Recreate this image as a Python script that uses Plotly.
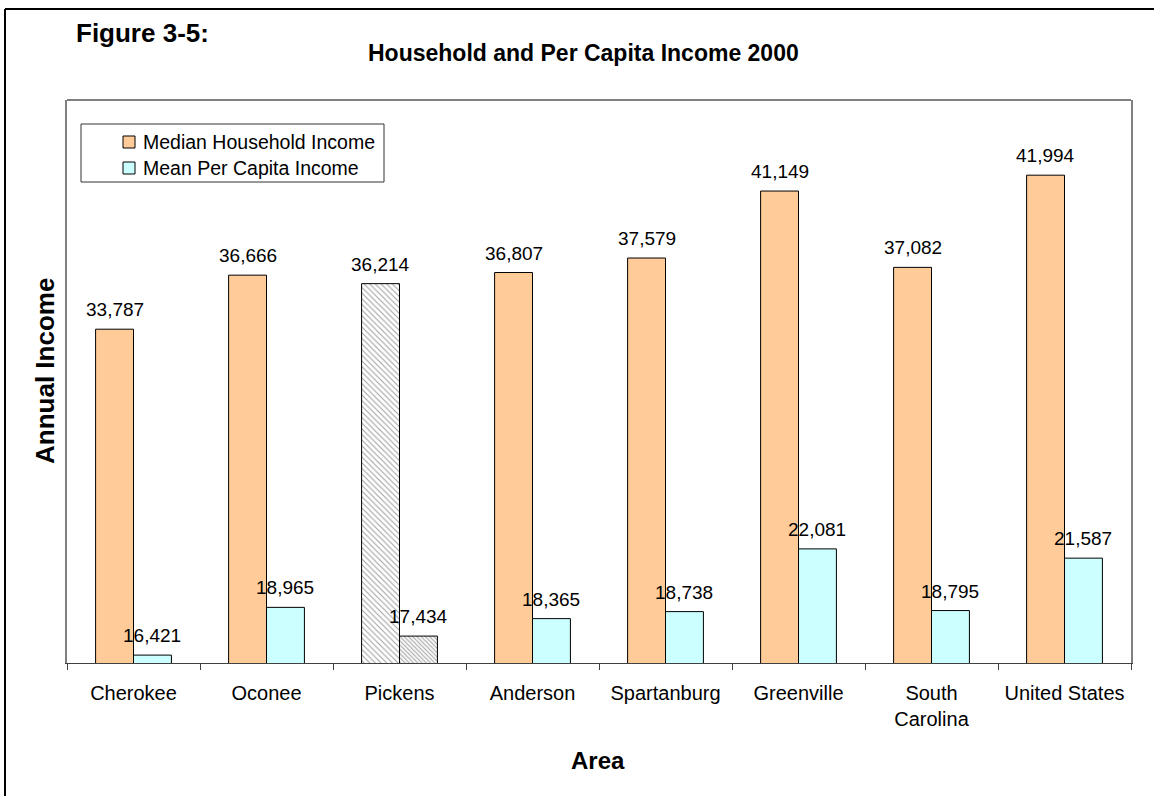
import plotly.graph_objects as go

areas = ["Cherokee", "Oconee", "Pickens", "Anderson", "Spartanburg",
         "Greenville", "South<br>Carolina", "United States"]
household = [33787, 36666, 36214, 36807, 37579, 41149, 37082, 41994]
per_capita = [16421, 18965, 17434, 18365, 18738, 22081, 18795, 21587]
series_names = ["Median Household Income", "Mean Per Capita Income"]

ORANGE = "#FFCC99"
CYAN = "#CCFFFF"
FONT = "Liberation Sans, Arial, sans-serif"

# Pickens is drawn with hatched bars
hh_colors = ["#ffffff" if a == "Pickens" else ORANGE for a in areas]
pc_colors = ["#f8f8f8" if a == "Pickens" else CYAN for a in areas]
hatch = ["\\" if a == "Pickens" else "" for a in areas]
hh_fg = ["#b4b4b4" if a == "Pickens" else ORANGE for a in areas]
pc_fg = ["#e0e0e0" if a == "Pickens" else CYAN for a in areas]

W, H = 1154, 796
ML, MR, MT, MB = 67, 23, 100, 133
pw = W - ML - MR
ph = H - MT - MB


def px(x):
    return (x - ML) / pw


def py(y):
    return 1 - (y - MT) / ph


BARGAP = 0.43
fig = go.Figure()
fig.add_trace(go.Bar(
    x=areas, y=household, name=series_names[0],
    marker=dict(color=hh_colors, line=dict(color="black", width=1),
                pattern=dict(shape=hatch, fgcolor=hh_fg, size=4,
                             solidity=0.28, fillmode="overlay")),
))
fig.add_trace(go.Bar(
    x=areas, y=per_capita, name=series_names[1],
    marker=dict(color=pc_colors, line=dict(color="black", width=1),
                pattern=dict(shape=hatch, fgcolor=pc_fg, size=3,
                             solidity=0.3, fillmode="overlay")),
))

annotations = []
# value labels above each bar, offset to the two bar slots of a group
half = pw / len(areas) * (1 - BARGAP) / 4
for series, dx in ((household, -half), (per_capita, half)):
    for a, v in zip(areas, series):
        annotations.append(dict(
            x=a, y=v, xref="x", yref="y", text=f"{v:,}", showarrow=False,
            xshift=dx, yshift=7, yanchor="bottom",
            font=dict(family=FONT, size=19, color="black"),
        ))

# titles
annotations += [
    dict(text="<b>Figure 3-5:</b>", xref="paper", yref="paper",
         x=px(74), y=py(33), xanchor="left", yanchor="middle",
         showarrow=False, font=dict(family=FONT, size=26)),
    dict(text="<b>Household and Per Capita Income 2000</b>", xref="paper", yref="paper",
         x=px(583), y=py(53), xanchor="center", yanchor="middle",
         showarrow=False, font=dict(family=FONT, size=23)),
    dict(text="<b>Annual Income</b>", xref="paper", yref="paper", textangle=-90,
         x=px(45), y=py(371), xanchor="center", yanchor="middle",
         showarrow=False, font=dict(family=FONT, size=26)),
    dict(text="<b>Area</b>", xref="paper", yref="paper",
         x=px(598), y=py(760), xanchor="center", yanchor="middle",
         showarrow=False, font=dict(family=FONT, size=24)),
]

# legend box drawn inside the plot frame
shapes = [
    dict(type="rect", xref="paper", yref="paper",
         x0=px(81), x1=px(384), y0=py(124), y1=py(182),
         line=dict(color="#333333", width=1), fillcolor="white", layer="above"),
]
for name, color, yc in ((series_names[0], ORANGE, 142), (series_names[1], CYAN, 168)):
    shapes.append(dict(type="rect", xref="paper", yref="paper",
                       x0=px(123), x1=px(135), y0=py(yc - 6), y1=py(yc + 6),
                       line=dict(color="black", width=1), fillcolor=color, layer="above"))
    annotations.append(dict(text=name, xref="paper", yref="paper",
                            x=px(141), y=py(yc), xanchor="left", yanchor="middle",
                            showarrow=False, font=dict(family=FONT, size=19.5)))

shapes += [
    # top edge of the plot frame
    dict(type="line", xref="paper", yref="paper", x0=0, x1=1, y0=1, y1=1,
         line=dict(color="#808080", width=2)),
    # outer page frame (left and top)
    dict(type="line", xref="paper", yref="paper",
         x0=px(5), x1=px(5), y0=py(9), y1=py(H + 5),
         line=dict(color="black", width=2)),
    dict(type="line", xref="paper", yref="paper",
         x0=px(5), x1=px(W + 5), y0=py(9), y1=py(9),
         line=dict(color="black", width=2)),
]

fig.update_layout(
    width=W, height=H,
    margin=dict(l=ML, r=MR, t=MT, b=MB, pad=0),
    paper_bgcolor="white", plot_bgcolor="white",
    barmode="group", bargap=BARGAP, bargroupgap=0,
    font=dict(family=FONT, size=20, color="black"),
    showlegend=False,
    xaxis=dict(
        tickson="boundaries", ticks="outside", ticklen=6, tickcolor="#404040",
        showline=True, linecolor="#404040", linewidth=1,
        tickfont=dict(family=FONT, size=20), ticklabelstandoff=12,
        showgrid=False,
    ),
    yaxis=dict(
        range=[16000, 46000], showticklabels=False, ticks="", showgrid=False,
        zeroline=False, showline=True, linecolor="#808080", linewidth=2, mirror=True,
    ),
    annotations=annotations,
    shapes=shapes,
)

fig.write_html("out.html")
